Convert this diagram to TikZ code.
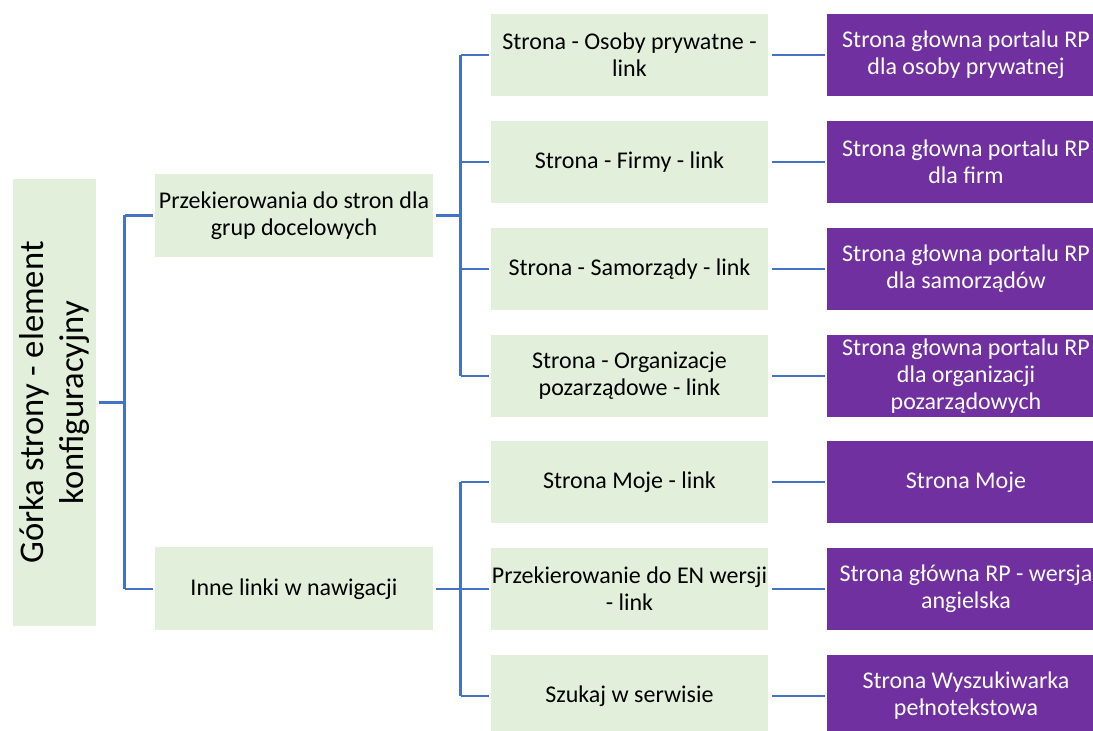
\documentclass[tikz,border=0pt]{standalone}
\usepackage{fontspec}
\setmainfont{Carlito}
\definecolor{boxgreen}{HTML}{E2EFDA}
\definecolor{boxpurple}{HTML}{7030A0}
\definecolor{linkblue}{HTML}{4472C4}
\tikzset{
  greenbox/.style={fill=boxgreen, draw=none, inner sep=0pt, align=center,
    font=\fontsize{12}{13.6}\selectfont, text=black},
  l2box/.style={greenbox, minimum width=138.5pt, minimum height=41pt},
  midbox/.style={greenbox, minimum width=139pt, minimum height=41.5pt},
  purplebox/.style={fill=boxpurple, draw=none, inner sep=0pt, align=center,
    font=\fontsize{12}{13.6}\selectfont, text=white, minimum width=139pt, minimum height=41pt},
  conn/.style={draw=linkblue, line width=1.2pt}
}
\begin{document}
\begin{tikzpicture}[x=0.5pt,y=-0.5pt]
\useasboundingbox (0,0) rectangle (1093,731);
\clip (0,0) rectangle (1093,731);
% root
\node[greenbox, minimum width=41.5pt, minimum height=223.5pt] (root) at (54.5,402.5) {};
\node[rotate=90, align=center, font=\fontsize{17.3}{19.7}\selectfont] (roottext) at (root.center) {Górka strony - element\\konfiguracyjny};
% mid level
\node[midbox] (m1) at (294,215.5) {Przekierowania do stron dla\\grup docelowych};
\node[midbox] (m2) at (294,589) {Inne linki w nawigacji};
% level 2
\node[l2box] (a1) at (629.5,55) {Strona - Osoby prywatne -\\link};
\node[l2box] (a2) at (629.5,162) {Strona - Firmy - link};
\node[l2box] (a3) at (629.5,269) {Strona - Samorządy - link};
\node[l2box] (a4) at (629.5,376) {Strona - Organizacje\\pozarządowe - link};
\node[l2box] (a5) at (629.5,482) {Strona Moje - link};
\node[l2box] (a6) at (629.5,589) {Przekierowanie do EN wersji\\- link};
\node[l2box] (a7) at (629.5,696) {Szukaj w serwisie};
% purple
\node[purplebox] (p1) at (966,55) {Strona głowna portalu RP\\dla osoby prywatnej};
\node[purplebox] (p2) at (966,162) {Strona głowna portalu RP\\dla firm};
\node[purplebox] (p3) at (966,269) {Strona głowna portalu RP\\dla samorządów};
\node[purplebox] (p4) at (966,376) {Strona głowna portalu RP\\dla organizacji\\pozarządowych};
\node[purplebox] (p5) at (966,482) {Strona Moje};
\node[purplebox] (p6) at (966,589) {Strona główna RP - wersja\\angielska};
\node[purplebox] (p7) at (966,696) {Strona Wyszukiwarka\\pełnotekstowa};
% root connectors
\draw[conn] ([xshift=1.5pt]root.east) -- ([xshift=-15pt]root.east -| m1.west);
\draw[conn] ([xshift=-15pt]m1.west) -- ([xshift=-15pt]m2.west);
\draw[conn] ([xshift=-15pt]m1.west) -- ([xshift=-1pt]m1.west);
\draw[conn] ([xshift=-15pt]m2.west) -- ([xshift=-1pt]m2.west);
% mid1 connectors
\draw[conn] ([xshift=1.5pt]m1.east) -- ([xshift=-15pt]m1.east -| a1.west);
\draw[conn] ([xshift=-15pt]a1.west) -- ([xshift=-15pt]a4.west);
\foreach \n in {a1,a2,a3,a4}
  \draw[conn] ([xshift=-15pt]\n.west) -- ([xshift=-1pt]\n.west);
% mid2 connectors
\draw[conn] ([xshift=1.5pt]m2.east) -- ([xshift=-15pt]m2.east -| a6.west);
\draw[conn] ([xshift=-15pt]a5.west) -- ([xshift=-15pt]a7.west);
\foreach \n in {a5,a6,a7}
  \draw[conn] ([xshift=-15pt]\n.west) -- ([xshift=-1pt]\n.west);
% purple connectors
\foreach \i in {1,...,7}
  \draw[conn] ([xshift=2pt]a\i.east) -- ([xshift=-1pt]a\i.east -| p\i.west);
\end{tikzpicture}
\end{document}
